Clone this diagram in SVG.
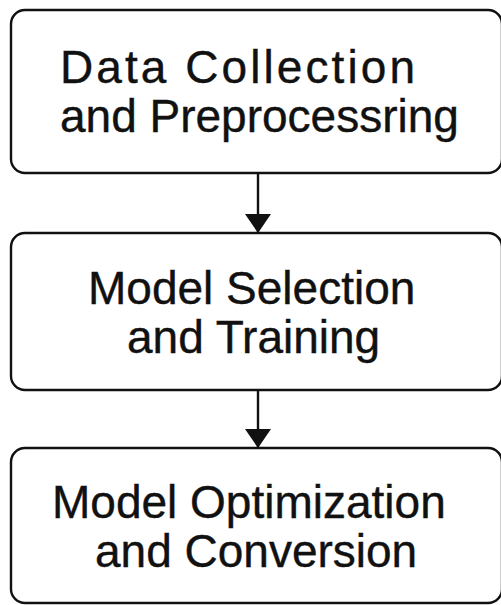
<svg xmlns="http://www.w3.org/2000/svg" width="501" height="605" viewBox="0 0 501 605">
<defs>
<style>
.box{fill:#fff;stroke:#111;stroke-width:2.4}
.lbl{font-family:"Liberation Sans",Arial,sans-serif;font-size:46px;fill:#111;stroke:#111;stroke-width:0.4}
.conn{stroke:#111;stroke-width:2.4;fill:none}
</style>
<marker id="ah" markerWidth="19" markerHeight="26" refX="19" refY="13" orient="auto" markerUnits="userSpaceOnUse">
<path d="M0,0 L19,13 L0,26 Z" fill="#111"/>
</marker>
</defs>
<rect width="501" height="605" fill="#fff"/>
<g id="node1">
<rect class="box" x="11" y="10" width="491" height="163" rx="14"/>
<text class="lbl" x="60" y="83" textLength="355" lengthAdjust="spacing">Data Collection</text>
<text class="lbl" x="60" y="132">and Preprocessring</text>
</g>
<g id="node2">
<rect class="box" x="11" y="233" width="491" height="157" rx="14"/>
<text class="lbl" x="88" y="304">Model Selection</text>
<text class="lbl" x="127" y="353">and Training</text>
</g>
<g id="node3">
<rect class="box" x="11" y="448" width="491" height="155" rx="14"/>
<text class="lbl" x="52" y="518">Model Optimization</text>
<text class="lbl" x="95" y="567">and Conversion</text>
</g>
<g id="connectors">
<line class="conn" x1="258" y1="173" x2="258" y2="233" marker-end="url(#ah)"/>
<line class="conn" x1="258" y1="390" x2="258" y2="448" marker-end="url(#ah)"/>
</g>
</svg>
